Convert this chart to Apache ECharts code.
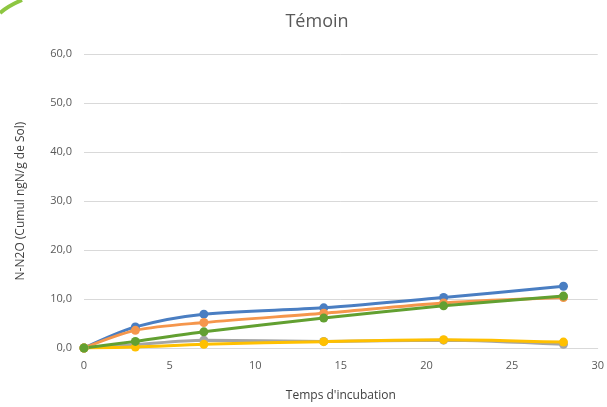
<!DOCTYPE html>
<html>
<head>
<meta charset="utf-8">
<script src="https://cdn.jsdelivr.net/npm/echarts@6/dist/echarts.min.js"></script>
<style>
  html, body { margin: 0; padding: 0; background: #fff; }
  #chart { width: 607px; height: 407px; }
</style>
</head>
<body>
<div id="chart"></div>
<script>
// Incubation days sampled
const days = [0, 3, 7, 14, 21, 28];

// Cumulative N-N2O per series (ngN/g de Sol)
const serieBleue  = [0, 4.3, 6.9, 8.2, 10.3, 12.6];
const serieOrange = [0, 3.6, 5.2, 7.1, 9.2, 10.3];
const serieGrise  = [0, 0.7, 1.6, 1.35, 1.6, 0.75];
const serieJaune  = [0, 0.2, 0.75, 1.3, 1.7, 1.2];
const serieVerte  = [0, 1.35, 3.3, 6.1, 8.6, 10.6];

const seriesDefs = [
  { name: 'S1', values: serieBleue,  color: '#4a7ec2' },
  { name: 'S2', values: serieOrange, color: '#f5964c' },
  { name: 'S3', values: serieGrise,  color: '#a5a5a5' },
  { name: 'S4', values: serieJaune,  color: '#ffc000' },
  { name: 'S5', values: serieVerte,  color: '#62a031' }
];

const font = "'Open Sans', 'Liberation Sans', sans-serif";
const chart = echarts.init(document.getElementById('chart'));

chart.setOption({
  animation: false,
  backgroundColor: '#ffffff',
  title: {
    text: 'Témoin',
    left: 312, top: 8, textAlign: 'center',
    textStyle: { fontFamily: font, fontSize: 18, fontWeight: 'normal', color: '#595959' }
  },
  grid: { left: 84, right: 9, top: 54, bottom: 58 },
  xAxis: {
    type: 'value', min: 0, max: 30, interval: 5,
    name: "Temps d'incubation", nameLocation: 'middle', nameGap: 42,
    nameTextStyle: { fontFamily: font, fontSize: 12, color: '#404040' },
    axisLine: { show: true, lineStyle: { color: '#d9d9d9' } },
    axisTick: { show: false },
    splitLine: { show: false },
    axisLabel: { fontFamily: font, fontSize: 11, color: '#595959', margin: 12 }
  },
  yAxis: {
    type: 'value', min: 0, max: 60, interval: 10,
    name: 'N-N2O (Cumul ngN/g de Sol)', nameLocation: 'middle', nameGap: 57,
    nameTextStyle: { fontFamily: font, fontSize: 12, color: '#404040' },
    axisLine: { show: false },
    axisTick: { show: false },
    splitLine: { lineStyle: { color: '#d9d9d9' } },
    axisLabel: {
      fontFamily: font, fontSize: 11, color: '#595959', margin: 12,
      formatter: v => v.toFixed(1).replace('.', ',')
    }
  },
  series: seriesDefs.map(s => ({
    name: s.name,
    type: 'line',
    smooth: 0.3,
    data: days.map((d, i) => [d, s.values[i]]),
    symbol: 'circle',
    symbolSize: 9,
    lineStyle: { width: 3, color: s.color },
    itemStyle: { color: s.color }
  })),
  graphic: [{
    type: 'bezierCurve',
    shape: { x1: 0, y1: 13, x2: 22, y2: 0, cpx1: 8, cpy1: 6 },
    style: { stroke: '#8dc641', lineWidth: 4, fill: null }
  }]
});
</script>
</body>
</html>
